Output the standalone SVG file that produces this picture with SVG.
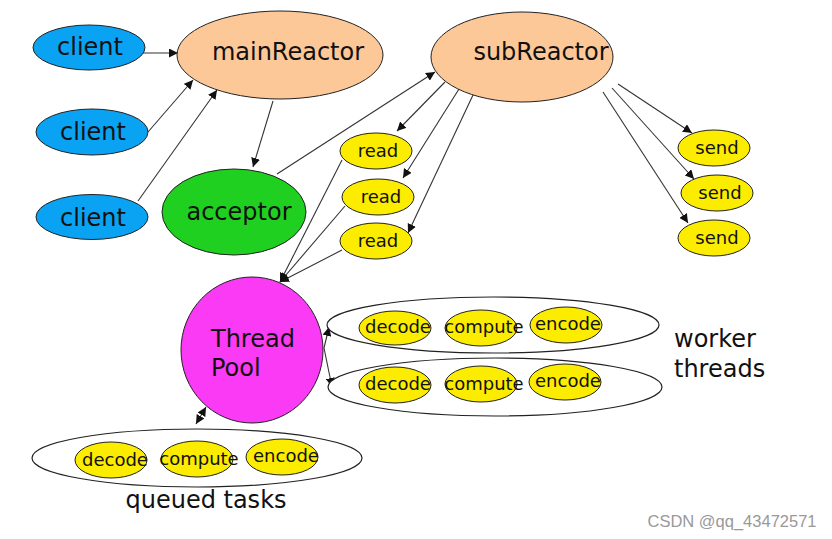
<svg xmlns="http://www.w3.org/2000/svg" width="832" height="539" viewBox="0 0 832 539">
<defs>
<marker id="ah" viewBox="0 0 10 10" refX="10" refY="5" markerWidth="9" markerHeight="9" markerUnits="userSpaceOnUse" orient="auto-start-reverse">
<path d="M0,0 L10,5 L0,10 z" fill="#111"/>
</marker>
<style>
.n{stroke:#222;stroke-width:1}
.client{fill:#0aa2f2}
.reactor{fill:#fcc898}
.acc{fill:#20d020}
.yel{fill:#fbec00}
.pool{fill:#fb3af5}
.grp{fill:#fff;stroke:#222;stroke-width:1.2}
text{font-family:"DejaVu Sans",Verdana,sans-serif;fill:#111;text-anchor:middle}
.big{font-size:24px}
.sm{font-size:18px}
.lbl{text-anchor:start}
.c line{stroke:#333;stroke-width:1.1;marker-end:url(#ah)}
</style>
</defs>
<rect width="832" height="539" fill="#fff"/>

<g class="c" id="connectors">
<line x1="137" y1="53" x2="178" y2="53"/>
<line x1="148" y1="132" x2="193" y2="80"/>
<line x1="138" y1="201" x2="217" y2="90"/>
<line x1="273" y1="101" x2="253" y2="167"/>
<line x1="277" y1="174" x2="435" y2="72"/>
<line x1="445" y1="82" x2="397" y2="131"/>
<line x1="459" y1="89" x2="403" y2="178"/>
<line x1="473" y1="95" x2="408" y2="233"/>
<line x1="342" y1="160" x2="280" y2="282"/>
<line x1="345" y1="206" x2="280" y2="282"/>
<line x1="342" y1="250" x2="280" y2="282"/>
<line x1="618" y1="84" x2="692" y2="133"/>
<line x1="612" y1="88" x2="694" y2="179"/>
<line x1="603" y1="92" x2="688" y2="223"/>
<line x1="324" y1="348" x2="329" y2="327"/>
<line x1="324" y1="348" x2="332" y2="387"/>
<line x1="196" y1="424" x2="206" y2="407" marker-start="url(#ah)"/>
</g>

<g id="client1"><ellipse class="n client" cx="89" cy="47.5" rx="56" ry="22.5"/><text class="big" x="90" y="55">client</text></g>
<g id="client2"><ellipse class="n client" cx="92" cy="132" rx="56" ry="23"/><text class="big" x="93" y="140">client</text></g>
<g id="client3"><ellipse class="n client" cx="92" cy="217" rx="56" ry="22.5"/><text class="big" x="93" y="226">client</text></g>

<g id="mainReactor"><ellipse class="n reactor" cx="280" cy="55" rx="103" ry="44"/><text class="big" x="288" y="60">mainReactor</text></g>
<g id="subReactor"><ellipse class="n reactor" cx="522" cy="57" rx="91" ry="45"/><text class="big" x="541" y="60">subReactor</text></g>
<g id="acceptor"><ellipse class="n acc" cx="234" cy="212" rx="72" ry="43"/><text class="big" x="239" y="220">acceptor</text></g>

<g id="read1"><ellipse class="n yel" cx="376" cy="151" rx="36" ry="18"/><text class="sm" x="378" y="157">read</text></g>
<g id="read2"><ellipse class="n yel" cx="378" cy="197" rx="36" ry="18"/><text class="sm" x="381" y="203">read</text></g>
<g id="read3"><ellipse class="n yel" cx="376" cy="241" rx="36" ry="18"/><text class="sm" x="378" y="247">read</text></g>

<g id="send1"><ellipse class="n yel" cx="714" cy="148" rx="36" ry="18"/><text class="sm" x="717" y="154">send</text></g>
<g id="send2"><ellipse class="n yel" cx="717" cy="193" rx="36" ry="18"/><text class="sm" x="720" y="199">send</text></g>
<g id="send3"><ellipse class="n yel" cx="714" cy="238" rx="36" ry="18"/><text class="sm" x="717" y="244">send</text></g>

<g id="threadPool"><ellipse class="n pool" cx="252" cy="350" rx="71" ry="73"/><text class="big lbl" x="211" y="347">Thread</text><text class="big lbl" x="211" y="376">Pool</text></g>

<g id="worker1">
<ellipse class="grp" cx="493" cy="325" rx="166" ry="28"/>
<ellipse class="n yel" cx="395" cy="328" rx="36" ry="17"/><text class="sm" x="398" y="333">decode</text>
<ellipse class="n yel" cx="481" cy="328" rx="36" ry="18"/><text class="sm" x="484" y="333">compute</text>
<ellipse class="n yel" cx="566" cy="325" rx="36" ry="18"/><text class="sm" x="568" y="330">encode</text>
</g>
<g id="worker2">
<ellipse class="grp" cx="495" cy="387" rx="167" ry="29"/>
<ellipse class="n yel" cx="395" cy="385" rx="36" ry="18"/><text class="sm" x="398" y="390">decode</text>
<ellipse class="n yel" cx="481" cy="384" rx="36" ry="18"/><text class="sm" x="484" y="390">compute</text>
<ellipse class="n yel" cx="565" cy="382" rx="36" ry="18"/><text class="sm" x="568" y="387">encode</text>
</g>
<g id="workerLabel"><text class="big lbl" x="674" y="347">worker</text><text class="big lbl" x="674" y="377">threads</text></g>

<g id="queued">
<ellipse class="grp" cx="197" cy="458" rx="165" ry="29"/>
<ellipse class="n yel" cx="111" cy="460" rx="36" ry="18"/><text class="sm" x="115" y="466">decode</text>
<ellipse class="n yel" cx="197" cy="459" rx="36" ry="18"/><text class="sm" x="199" y="465">compute</text>
<ellipse class="n yel" cx="282" cy="457" rx="36" ry="18"/><text class="sm" x="286" y="462">encode</text>
</g>
<g id="queuedLabel"><text class="big" x="206" y="508">queued tasks</text></g>

<text x="732" y="527" style="font-family:'Liberation Sans',Arial,sans-serif;font-size:16.5px;fill:#999;text-anchor:middle">CSDN @qq_43472571</text>
</svg>
